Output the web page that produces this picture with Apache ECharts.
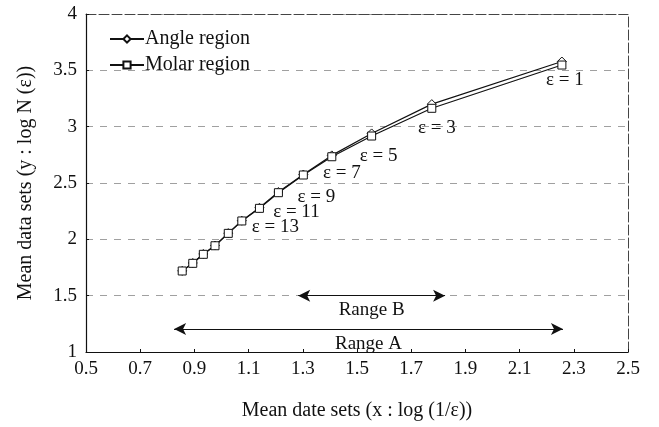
<!DOCTYPE html>
<html>
<head>
<meta charset="utf-8">
<script src="https://cdn.jsdelivr.net/npm/echarts@6/dist/echarts.min.js"></script>
<style>html,body{margin:0;padding:0;background:#fff}#c{width:659px;height:427px}</style>
</head>
<body>
<div id="c"></div>
<script>
const xValues = [0.855, 0.894, 0.933, 0.976, 1.025, 1.075, 1.140, 1.210, 1.302, 1.407, 1.554, 1.776, 2.256];
const molarValues = [1.719, 1.787, 1.867, 1.943, 2.053, 2.163, 2.275, 2.414, 2.571, 2.733, 2.917, 3.163, 3.547];
const angleValues = [1.720, 1.790, 1.870, 1.945, 2.055, 2.165, 2.280, 2.420, 2.575, 2.745, 2.940, 3.200, 3.578];
const epsLabels = ['', '', '', '', '', '', 'ε = 13', 'ε = 11', 'ε = 9', 'ε = 7', 'ε = 5', 'ε = 3', 'ε = 1'];
const xTickLabels = [0.5, 0.7, 0.9, 1.1, 1.3, 1.5, 1.7, 1.9, 2.1, 2.3, 2.5];
const yTickLabels = [1, 1.5, 2, 2.5, 3, 3.5, 4];
const rangeA = [0.825, 2.26, 1.204];
const rangeB = [1.283, 1.825, 1.50];

const FONT = '"Liberation Serif", "DejaVu Serif", serif';
const INK = '#111';
const labelOffsets = {6: [16, 19], 7: [18, 19], 8: [13, 22], 9: [10, 16], 10: [7, 20], 11: [5, 20], 12: [3, 15]};

const chart = echarts.init(document.getElementById('c'));

const molarData = xValues.map((x, i) => {
  const item = { value: [x, molarValues[i]] };
  if (epsLabels[i]) {
    item.label = {
      show: true, formatter: epsLabels[i], position: 'inside',
      offset: labelOffsets[i], align: 'center', verticalAlign: 'middle',
      fontFamily: FONT, fontSize: 19, color: INK
    };
  }
  return item;
});
const angleData = xValues.map((x, i) => [x, angleValues[i]]);

function rangeLine(r, text) {
  return [
    { coord: [r[0], r[2]], label: { show: true, formatter: text } },
    { coord: [r[1], r[2]] }
  ];
}

chart.setOption({
  animation: false,
  backgroundColor: '#fff',
  textStyle: { fontFamily: FONT, color: INK },
  grid: { left: 86, right: 31, top: 14, bottom: 75 },
  legend: {
    left: 104, top: 24, orient: 'vertical', itemWidth: 34, itemHeight: 9, itemGap: 6,
    textStyle: { fontFamily: FONT, fontSize: 20, color: INK, padding: [0, 0, 0, -4] },
    data: ['Angle region', 'Molar region']
  },
  xAxis: [{
    type: 'value', min: 0.5, max: 2.5,
    name: 'Mean date sets (x : log (1/ε))', nameLocation: 'middle', nameGap: 49,
    nameTextStyle: { fontFamily: FONT, fontSize: 20, color: INK },
    axisLine: { lineStyle: { color: INK, width: 1.2 } },
    axisTick: { inside: true, length: 3, customValues: xTickLabels, lineStyle: { color: INK } },
    axisLabel: { customValues: xTickLabels, fontFamily: FONT, fontSize: 19, color: INK, margin: 8,
      formatter: v => v.toFixed(1) },
    splitLine: { show: false }
  }, {
    type: 'value', min: 0.5, max: 2.5, position: 'top',
    axisLine: { show: true, lineStyle: { color: '#444', type: [10, 3], width: 1 } },
    axisTick: { show: false }, axisLabel: { show: false }, splitLine: { show: false }
  }],
  yAxis: [{
    type: 'value', min: 1, max: 4, interval: 0.5,
    name: 'Mean data sets (y : log N (ε))', nameLocation: 'middle', nameGap: 50,
    nameTextStyle: { fontFamily: FONT, fontSize: 20, color: INK },
    axisLine: { show: true, lineStyle: { color: INK, width: 1.2 } },
    axisTick: { show: true, inside: true, length: 3, lineStyle: { color: INK } },
    axisLabel: { fontFamily: FONT, fontSize: 19, color: INK, margin: 9,
      formatter: v => String(v) },
    splitLine: { show: true, lineStyle: { color: '#a0a0a0', type: [7, 7], width: 1 } }
  }, {
    type: 'value', min: 1, max: 4, interval: 0.5, position: 'right',
    axisLine: { show: true, lineStyle: { color: '#444', type: [10, 3], width: 1 } },
    axisTick: { show: false }, axisLabel: { show: false }, splitLine: { show: false }
  }],
  series: [{
    name: 'Angle region', type: 'line', data: angleData, z: 2,
    symbol: 'diamond', symbolSize: 9, showAllSymbol: true,
    lineStyle: { color: INK, width: 1.2 },
    itemStyle: { color: '#fff', borderColor: INK, borderWidth: 1 }
  }, {
    name: 'Molar region', type: 'line', data: molarData, z: 3,
    symbol: 'rect', symbolSize: 8, showAllSymbol: true,
    lineStyle: { color: INK, width: 1.2 },
    itemStyle: { color: '#fff', borderColor: INK, borderWidth: 1 },
    markLine: {
      silent: true, symbol: ['arrow', 'arrow'], symbolSize: [9, 12],
      lineStyle: { color: INK, width: 1.2, type: 'solid' },
      label: { position: 'insideMiddleBottom', fontFamily: FONT, fontSize: 19, color: INK, distance: 5 },
      data: [rangeLine(rangeB, 'Range B'), rangeLine(rangeA, 'Range A')]
    }
  }]
});
</script>
</body>
</html>
